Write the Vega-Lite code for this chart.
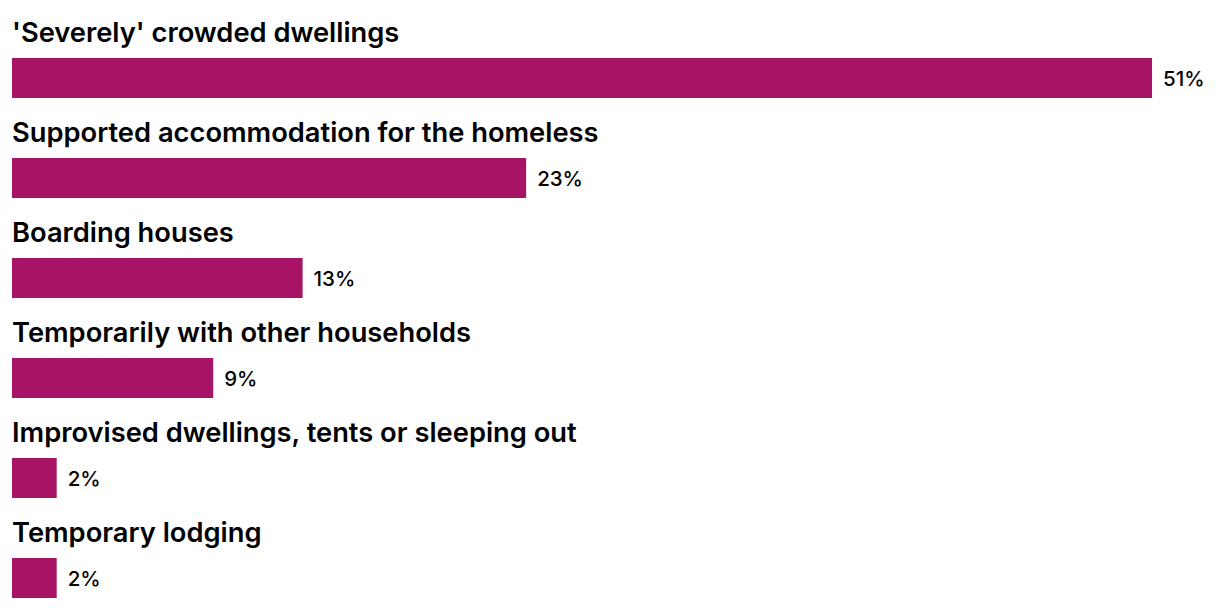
{
  "$schema": "https://vega.github.io/schema/vega-lite/v6.json",
  "autosize": {"type": "fit", "contains": "padding"},
  "width": 1220,
  "height": 608,
  "padding": {"left": 12, "right": 0, "top": 0, "bottom": 0},
  "background": "white",
  "config": {"view": {"stroke": null}},
  "data": {"values": [
    {"category": "'Severely' crowded dwellings", "pct": 51, "label": "51%"},
    {"category": "Supported accommodation for the homeless", "pct": 23, "label": "23%"},
    {"category": "Boarding houses", "pct": 13, "label": "13%"},
    {"category": "Temporarily with other households", "pct": 9, "label": "9%"},
    {"category": "Improvised dwellings, tents or sleeping out", "pct": 2, "label": "2%"},
    {"category": "Temporary lodging", "pct": 2, "label": "2%"}
  ]},
  "encoding": {
    "y": {"field": "category", "type": "nominal", "sort": null, "axis": null,
          "scale": {"paddingInner": 0, "paddingOuter": 0.04}}
  },
  "layer": [
    {
      "mark": {"type": "bar", "color": "#A71465", "height": 40, "yOffset": 24},
      "encoding": {
        "x": {"field": "pct", "type": "quantitative", "axis": null,
              "scale": {"domain": [0, 54.04], "nice": false, "zero": true}}
      }
    },
    {
      "mark": {"type": "text", "align": "left", "baseline": "alphabetic", "dy": -12,
               "font": "Inter", "fontSize": 27.3, "fontWeight": 600, "color": "#000000"},
      "encoding": {
        "x": {"datum": 0},
        "text": {"field": "category"}
      }
    },
    {
      "mark": {"type": "text", "align": "left", "baseline": "alphabetic", "dy": 32, "dx": 11,
               "font": "Inter", "fontSize": 20.5, "fontWeight": 500, "color": "#000000"},
      "encoding": {
        "x": {"field": "pct", "type": "quantitative"},
        "text": {"field": "label"}
      }
    }
  ]
}
